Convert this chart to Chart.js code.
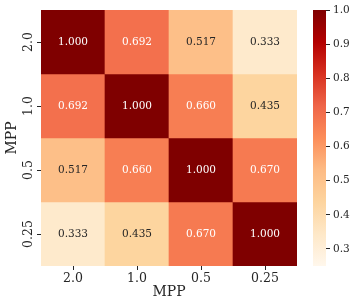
<!DOCTYPE html>
<html><head><meta charset="utf-8">
<script src="https://cdn.jsdelivr.net/npm/chart.js@4/dist/chart.umd.min.js"></script>
<style>
html,body{margin:0;padding:0;background:#fff;}
#wrap{position:relative;width:357px;height:308px;}
canvas{position:absolute;left:0;top:0;}
</style></head>
<body><div id="wrap"><canvas id="hm" width="357" height="308"></canvas><canvas id="cb" width="357" height="308"></canvas></div>
<script>
// ---- data ----
const colLabels = ['2.0', '1.0', '0.5', '0.25'];
const rowLabels = ['2.0', '1.0', '0.5', '0.25'];
const row0 = [1.000, 0.692, 0.517, 0.333];
const row1 = [0.692, 1.000, 0.660, 0.435];
const row2 = [0.517, 0.660, 1.000, 0.670];
const row3 = [0.333, 0.435, 0.670, 1.000];
const rows = [row0, row1, row2, row3];
const axisTitle = 'MPP';
const vmin = 0.25, vmax = 1.0;
const colorbarTicks = [0.3, 0.4, 0.5, 0.6, 0.7, 0.8, 0.9, 1.0];

// ---- OrRd colormap ----
const orrd = ['#fff7ec','#fee8c8','#fdd49e','#fdbb84','#fc8d59','#ef6548','#d7301f','#b30000','#7f0000'];
function hex2rgb(h){return [parseInt(h.slice(1,3),16),parseInt(h.slice(3,5),16),parseInt(h.slice(5,7),16)];}
const orrdRgb = orrd.map(hex2rgb);
function cmap(v){
  let t = (v - vmin) / (vmax - vmin); t = Math.max(0, Math.min(1, t));
  const p = t * (orrdRgb.length - 1); const i = Math.min(Math.floor(p), orrdRgb.length - 2); const f = p - i;
  const a = orrdRgb[i], b = orrdRgb[i+1];
  return [0,1,2].map(k => a[k] + (b[k]-a[k])*f);
}
function rgbStr(c){return 'rgb(' + c.map(x=>Math.round(x)).join(',') + ')';}
function lum(c){
  const l = c.map(x => { x/=255; return x <= 0.03928 ? x/12.92 : Math.pow((x+0.055)/1.055, 2.4); });
  return 0.2126*l[0] + 0.7152*l[1] + 0.0722*l[2];
}

const FONT = "'DejaVu Serif', serif";
const nRows = rowLabels.length;

const datasets = rows.map((r, i) => ({
  data: r.map(() => [nRows - 1 - i, nRows - i]),
  values: r,
  backgroundColor: r.map(v => rgbStr(cmap(v))),
  borderWidth: 0,
  grouped: false,
  barPercentage: 1.0,
  categoryPercentage: 1.0
}));

const cellText = {
  id: 'cellText',
  afterDatasetsDraw(chart){
    const ctx = chart.ctx;
    ctx.save();
    ctx.font = "10.5px " + FONT;
    ctx.textAlign = 'center';
    ctx.textBaseline = 'middle';
    chart.data.datasets.forEach((ds, i) => {
      const meta = chart.getDatasetMeta(i);
      meta.data.forEach((bar, j) => {
        const v = ds.values[j];
        ctx.fillStyle = lum(cmap(v)) > 0.408 ? '#262626' : '#ffffff';
        ctx.fillText(v.toFixed(3), bar.x, (bar.y + bar.base) / 2);
      });
    });
    ctx.restore();
  }
};

new Chart(document.getElementById('hm'), {
  type: 'bar',
  data: { labels: colLabels, datasets },
  options: {
    responsive: false, animation: false,
    layout: { padding: { left: 4, top: 10, right: 60, bottom: 7 } },
    plugins: { legend: { display: false }, tooltip: { enabled: false } },
    scales: {
      x: {
        type: 'category', offset: true,
        grid: { offset: false, drawOnChartArea: false, drawTicks: true, tickLength: 4, color: '#262626', lineWidth: 1 },
        border: { display: false },
        ticks: { color: '#262626', font: { family: FONT, size: 12.5 }, padding: 1, maxRotation: 0, autoSkip: false },
        title: { display: true, text: axisTitle, color: '#262626', font: { family: FONT, size: 14 }, padding: 0 },
        afterFit(s){ s.height = 35; }
      },
      y: {
        type: 'linear', min: 0, max: nRows,
        afterBuildTicks(s){ s.ticks = rowLabels.map((l, i) => ({ value: nRows - 0.5 - i })); },
        grid: { drawOnChartArea: false, drawTicks: true, tickLength: 4, color: '#262626', lineWidth: 1 },
        border: { display: false },
        ticks: {
          color: '#262626', font: { family: FONT, size: 12.5 }, minRotation: 90, maxRotation: 90,
          crossAlign: 'center', padding: -6, autoSkip: false,
          callback: (v) => rowLabels[Math.round(nRows - 0.5 - v)]
        },
        title: { display: true, text: axisTitle, color: '#262626', font: { family: FONT, size: 14 }, padding: 0 },
        afterFit(s){ s.width = 37; }
      }
    }
  },
  plugins: [cellText]
});

// ---- colorbar ----
function cbGradient(context){
  const a = context.chart.chartArea;
  if (!a) return null;
  const g = context.chart.ctx.createLinearGradient(0, a.bottom, 0, a.top);
  orrd.forEach((c, i) => g.addColorStop(i / (orrd.length - 1), c));
  return g;
}
new Chart(document.getElementById('cb'), {
  type: 'bar',
  data: { labels: ['cb'], datasets: [{ data: [[vmin, vmax]], backgroundColor: cbGradient, borderWidth: 0, barPercentage: 1.0, categoryPercentage: 1.0 }] },
  options: {
    responsive: false, animation: false,
    layout: { padding: { left: 313, top: 10, right: 0, bottom: 42 } },
    plugins: { legend: { display: false }, tooltip: { enabled: false } },
    scales: {
      x: { display: false },
      y: {
        position: 'right', min: vmin, max: vmax,
        afterBuildTicks(s){ s.ticks = colorbarTicks.map(v => ({ value: v })); },
        grid: { drawOnChartArea: false, drawTicks: true, tickLength: 4, color: '#262626' },
        border: { display: false },
        ticks: { color: '#262626', font: { family: FONT, size: 10.5 }, padding: 3, callback: v => v.toFixed(1) },
        afterFit(s){ s.width = 31; }
      }
    }
  }
});
</script>
</body></html>
